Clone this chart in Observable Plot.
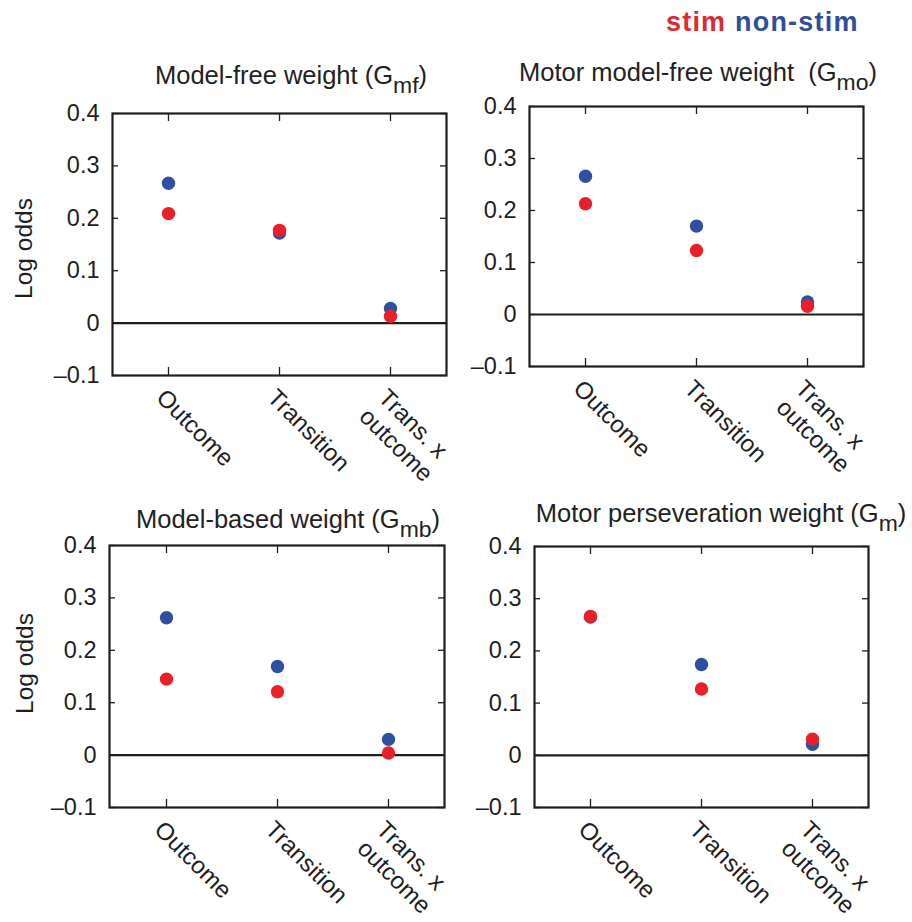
<!DOCTYPE html>
<html>
<head>
<meta charset="utf-8">
<script src="https://cdn.jsdelivr.net/npm/d3@7"></script>
<script src="https://cdn.jsdelivr.net/npm/@observablehq/plot@0.6"></script>
<style>
  html, body { margin: 0; padding: 0; background: #fff; }
  body { font-family: "Liberation Sans", Arial, Helvetica, sans-serif; color: #222; }
  #wrap { position: relative; width: 912px; height: 922px; overflow: hidden; background: #fff; }
  .panel { position: absolute; }
  .panel svg { overflow: visible; }
  .title { position: absolute; font-size: 25.5px; line-height: 1; white-space: pre; transform: translateX(-50%); color: #222; }
  .title sub { font-size: 0.9em; vertical-align: -0.38em; line-height: 0; }
  .legend { position: absolute; font-size: 27px; font-weight: bold; line-height: 1; letter-spacing: 1.2px; white-space: pre; }
</style>
</head>
<body>
<div id="wrap"></div>
<script>
// ---------- data ----------
const categories = ["Outcome", "Transition", "Trans. x outcome"];
const xTickLabels = ["Outcome", "Transition", "Trans. x\noutcome"];
const yTickValues = [-0.1, 0, 0.1, 0.2, 0.3, 0.4];
const yTickLabels = ["\u20130.1", "0", "0.1", "0.2", "0.3", "0.4"];
const seriesNames = ["stim", "non-stim"];

const titleMain = ["Model-free weight (G", "Motor model-free weight  (G", "Model-based weight (G", "Motor perseveration weight (G"];
const titleSub = ["mf", "mo", "mb", "m"];
const yAxisLabel = "Log odds";

// values (log odds)
const mfStim = [0.209, 0.177, 0.013];
const mfNonStim = [0.267, 0.172, 0.028];
const moStim = [0.213, 0.123, 0.016];
const moNonStim = [0.266, 0.170, 0.024];
const mbStim = [0.145, 0.121, 0.004];
const mbNonStim = [0.262, 0.169, 0.030];
const mStim = [0.266, 0.127, 0.031];
const mNonStim = [0.265, 0.174, 0.021];

// ---------- styling / layout ----------
const colors = {"stim": "#e8202a", "non-stim": "#2f4fa3"};
const ink = "#1e1e1e";
const layout = [
  {left: 0,   top: 0,   width: 456, height: 470, mL: 112, mR: 10, mT: 113, mB: 95,  yLabel: true,  lDx: -88, lDy: 4,   tX: 291, tBase: 85},
  {left: 456, top: 0,   width: 456, height: 470, mL: 73,  mR: 49, mT: 106, mB: 104, yLabel: false, lDx: 0,   lDy: 0,   tX: 698, tBase: 82},
  {left: 0,   top: 470, width: 456, height: 452, mL: 109, mR: 12, mT: 75,  mB: 115, yLabel: true,  lDx: -84, lDy: -13, tX: 288, tBase: 529},
  {left: 456, top: 470, width: 456, height: 452, mL: 78,  mR: 44, mT: 76,  mB: 115, yLabel: false, lDx: 0,   lDy: 0,   tX: 721, tBase: 523}
];
const panelData = [
  [mfStim, mfNonStim],
  [moStim, moNonStim],
  [mbStim, mbNonStim],
  [mStim, mNonStim]
];

const wrap = document.getElementById("wrap");

function rows(stimVals, nonVals) {
  // non-stim first so stim (red) is drawn on top
  const out = [];
  categories.forEach((c, i) => out.push({cat: c, series: "non-stim", value: nonVals[i]}));
  categories.forEach((c, i) => out.push({cat: c, series: "stim", value: stimVals[i]}));
  return out;
}

layout.forEach((L, p) => {
  const data = rows(panelData[p][0], panelData[p][1]);
  const fw = L.width - L.mL - L.mR;
  const fh = L.height - L.mT - L.mB;
  const marks = [
    // inward ticks on all four sides
    Plot.tickY(yTickValues, {y: d => d, insetRight: fw - 6, stroke: ink, strokeWidth: 1.3}),
    Plot.tickY(yTickValues, {y: d => d, insetLeft: fw - 6, stroke: ink, strokeWidth: 1.3}),
    Plot.tickX(categories, {x: d => d, insetTop: fh - 8, stroke: ink, strokeWidth: 1.3}),
    Plot.tickX(categories, {x: d => d, insetBottom: fh - 8, stroke: ink, strokeWidth: 1.3}),
    Plot.ruleY([0], {stroke: ink, strokeWidth: 2.2}),
    Plot.frame({stroke: ink, strokeWidth: 2.2}),
    Plot.axisY({anchor: "left", ticks: yTickValues, tickSize: 0, tickPadding: 13, fontSize: 23.5, fill: ink,
      tickFormat: d => yTickLabels[yTickValues.indexOf(d)], label: null}),
    Plot.axisX({anchor: "bottom", tickSize: 0, tickPadding: 10, tickRotate: 45, textAnchor: "start", lineAnchor: "top",
      lineHeight: 1.12, fontSize: 24, fill: ink,
      tickFormat: d => xTickLabels[categories.indexOf(d)], label: null}),
    Plot.dot(data, {x: "cat", y: "value", r: 6.7, fill: d => colors[d.series], stroke: "none"})
  ];
  if (L.yLabel) {
    marks.push(Plot.text([yAxisLabel], {frameAnchor: "left", textAnchor: "middle", lineAnchor: "middle", rotate: -90,
      dx: L.lDx, dy: L.lDy, fontSize: 24.5, fill: ink}));
  }
  const chart = Plot.plot({
    width: L.width,
    height: L.height,
    marginLeft: L.mL, marginRight: L.mR, marginTop: L.mT, marginBottom: L.mB,
    x: {type: "point", domain: categories, padding: 0.5},
    y: {domain: [-0.1, 0.4]},
    style: {background: "none", overflow: "visible", fontFamily: "'Liberation Sans', Arial, sans-serif", color: ink},
    marks
  });
  const holder = document.createElement("div");
  holder.className = "panel";
  holder.style.left = L.left + "px";
  holder.style.top = L.top + "px";
  holder.appendChild(chart);
  wrap.appendChild(holder);

  const t = document.createElement("div");
  t.className = "title";
  t.style.left = L.tX + "px";
  t.style.top = (L.tBase - 21.6) + "px";
  t.appendChild(document.createTextNode(titleMain[p]));
  const sub = document.createElement("sub");
  sub.textContent = titleSub[p];
  t.appendChild(sub);
  t.appendChild(document.createTextNode(")"));
  wrap.appendChild(t);
});

// legend text
const leg = document.createElement("div");
leg.className = "legend";
leg.style.left = "666px";
leg.style.top = (32 - 22.9) + "px";
seriesNames.forEach((s, i) => {
  const sp = document.createElement("span");
  sp.style.color = s === "stim" ? "#dc2a33" : "#2f4f9a";
  sp.textContent = (i ? " " : "") + s;
  leg.appendChild(sp);
});
wrap.appendChild(leg);
</script>
</body>
</html>
